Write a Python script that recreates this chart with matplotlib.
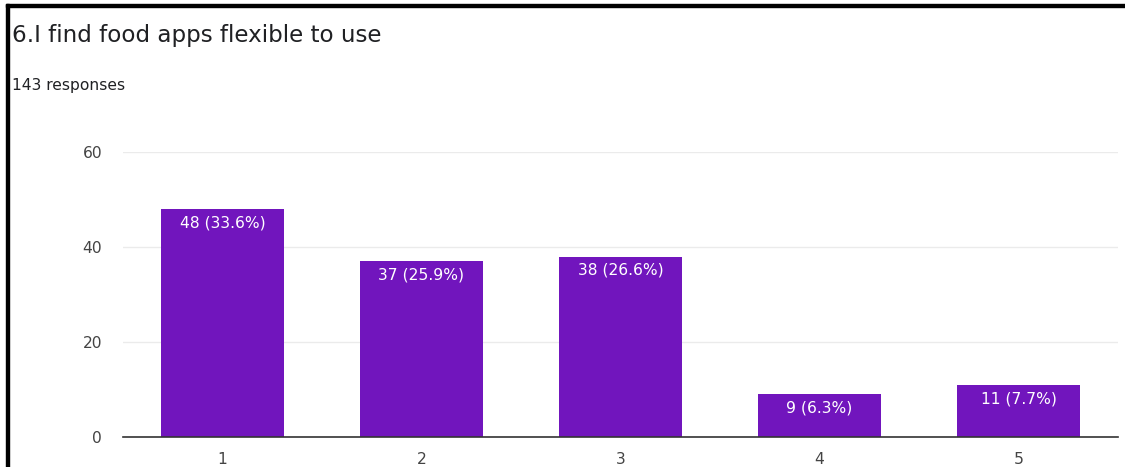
import matplotlib.pyplot as plt
from matplotlib.patches import Rectangle

# survey answers
categories = ['1', '2', '3', '4', '5']
counts = [48, 37, 38, 9, 11]
total_responses = 143
title = '6.I find food apps flexible to use'

plt.rcParams['font.family'] = ['DejaVu Sans']

fig = plt.figure(figsize=(11.25, 4.67), dpi=100)
ax = fig.add_axes([123 / 1125, 30 / 467, 995 / 1125, 285 / 467])

bar_color = '#7115bd'
x = range(len(categories))
bars = ax.bar(x, counts, width=0.615, color=bar_color, zorder=3)

# labels inside top of bars
for rect, c in zip(bars, counts):
    pct = 100 * c / total_responses
    ax.annotate(f'{c} ({pct:.1f}%)',
                xy=(rect.get_x() + rect.get_width() / 2, rect.get_height()),
                xytext=(0, -4.5), textcoords='offset points',
                ha='center', va='top', color='white', fontsize=11.2, zorder=4)

ax.set_xlim(-0.5, len(categories) - 0.5)
ax.set_ylim(0, 60)
ax.set_yticks([0, 20, 40, 60])
ax.set_xticks(list(x))
ax.set_xticklabels(categories)
ax.grid(axis='y', color='#ebebeb', linewidth=1, zorder=0)
for side in ['top', 'right', 'left']:
    ax.spines[side].set_visible(False)
ax.spines['bottom'].set_color('#333333')
ax.spines['bottom'].set_linewidth(1.2)
ax.spines['bottom'].set_zorder(5)
ax.tick_params(axis='both', length=0, colors='#444444', labelsize=11.2)
ax.tick_params(axis='y', pad=15)
ax.tick_params(axis='x', pad=11)

fig.text(12 / 1125, 1 - 42 / 467, title, fontsize=16.6, color='#202124',
         va='baseline', ha='left')
fig.text(12 / 1125, 1 - 90 / 467, f'{total_responses} responses', fontsize=11.2,
         color='#202124', va='baseline', ha='left')

# black frame on left and top
fig.patches.append(Rectangle((6 / 1125, 0), 3 / 1125, 1 - 4 / 467,
                             transform=fig.transFigure, color='black'))
fig.patches.append(Rectangle((6 / 1125, 1 - 7 / 467), 1 - 6 / 1125, 3 / 467,
                             transform=fig.transFigure, color='black'))

fig.savefig('out.png', dpi=100)
